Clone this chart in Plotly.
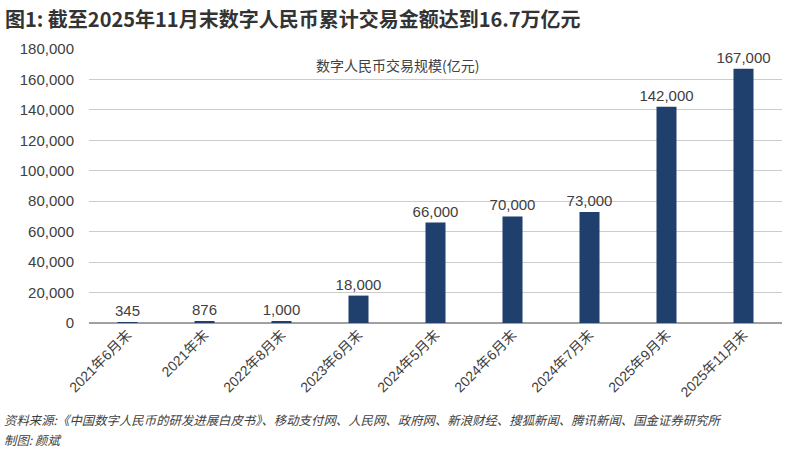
import plotly.graph_objects as go

categories = ["2021年6月末", "2021年末", "2022年8月末", "2023年6月末", "2024年5月末",
              "2024年6月末", "2024年7月末", "2025年9月末", "2025年11月末"]
values = [345, 876, 1000, 18000, 66000, 70000, 73000, 142000, 167000]
value_labels = ["345", "876", "1,000", "18,000", "66,000", "70,000", "73,000", "142,000", "167,000"]
y_ticks = [0, 20000, 40000, 60000, 80000, 100000, 120000, 140000, 160000, 180000]

title = "图1: 截至2025年11月末数字人民币累计交易金额达到16.7万亿元"
series_name = "数字人民币交易规模(亿元)"
source = "资料来源:《中国数字人民币的研发进展白皮书》、移动支付网、人民网、政府网、新浪财经、搜狐新闻、腾讯新闻、国金证券研究所"
author = "制图: 颜斌"

font = "Liberation Sans, Noto Sans CJK SC"
cjk = "Noto Sans CJK SC"
grey = "#404040"

fig = go.Figure()
fig.add_trace(go.Bar(
    x=categories, y=values, name=series_name,
    marker=dict(color="#1f3f6c", line=dict(width=0)),
    text=value_labels, textposition="outside", cliponaxis=False, constraintext="none",
    textfont=dict(size=15, color=grey, family=font),
))

fig.update_layout(
    width=790, height=454,
    margin=dict(l=89, r=8, t=49, b=131),
    paper_bgcolor="white", plot_bgcolor="white",
    font=dict(family=font, color=grey),
    bargap=0.74, showlegend=False,
    xaxis=dict(tickangle=-45, tickfont=dict(size=14, color=grey, family=font), showline=False,
               ticks="", automargin=False),
    yaxis=dict(range=[0, 180000], tickvals=y_ticks, tickformat=",",
               tickfont=dict(size=15, color=grey, family=font), gridcolor="#cccccc", gridwidth=1,
               zeroline=True, zerolinecolor="#a0a0a0", zerolinewidth=2, ticks="",
               ticklabelstandoff=14, automargin=False),
)

fig.add_annotation(text="<b>" + title + "</b>", xref="paper", yref="paper",
                   x=-86 / 693, y=1 + 31 / 274, xanchor="left", yanchor="middle",
                   showarrow=False, font=dict(size=20, color="#333333", family=cjk))
fig.add_annotation(text=series_name, xref="paper", yref="paper",
                   x=0.445, y=(160000 + 7000) / 180000 + 0.014, xanchor="center", yanchor="middle",
                   showarrow=False, font=dict(size=14, color=grey, family=cjk))
fig.add_annotation(text="<i>" + source + "</i>", xref="paper", yref="paper",
                   x=-87 / 693, y=-97 / 274, xanchor="left", yanchor="middle",
                   showarrow=False, font=dict(size=12.4, color=grey, family=cjk))
fig.add_annotation(text="<i>" + author + "</i>", xref="paper", yref="paper",
                   x=-87 / 693, y=-117 / 274, xanchor="left", yanchor="middle",
                   showarrow=False, font=dict(size=12.4, color=grey, family=cjk))

fig.write_html("out.html", config={"displayModeBar": False},
               post_script="document.body.style.margin='0';")
